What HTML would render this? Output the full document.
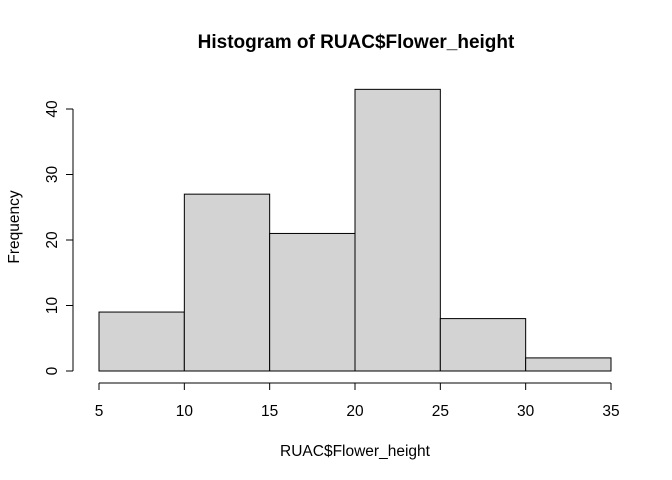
<!DOCTYPE html>
<html><head><meta charset="utf-8"><style>
body{margin:0;background:#fff}
svg{display:block;font-family:"Liberation Sans",Arial,sans-serif}
</style></head><body>
<svg id="c" width="672" height="480">
<text x="356" y="48" text-anchor="middle" font-size="19" font-weight="bold">Histogram of RUAC$Flower_height</text>
<text x="355" y="456" text-anchor="middle" font-size="15.5">RUAC$Flower_height</text>
<text transform="translate(19,227) rotate(-90)" text-anchor="middle" font-size="15.5">Frequency</text>
<g id="bars"></g><g id="xa"></g><g id="ya"></g>
</svg>
<script>
const breaks=[5,10,15,20,25,30,35];
const counts=[9,27,21,43,8,2];
const xTicks=[5,10,15,20,25,30,35];
const yTicks=[0,10,20,30,40];
const NS="http://www.w3.org/2000/svg";
const xs=v=>99+(v-5)*512/30;
const ys=v=>371-v*262/40;
function mk(t,a,p){const e=document.createElementNS(NS,t);for(const k in a)e.setAttribute(k,a[k]);p.appendChild(e);return e;}
const bars=document.getElementById('bars');
counts.forEach((c,i)=>{
 const r=mk('rect',{x:xs(breaks[i]),y:ys(c),width:xs(breaks[i+1])-xs(breaks[i]),height:ys(0)-ys(c),fill:'#d3d3d3',stroke:'#000','stroke-width':1},bars);
 
 
});
const xa=document.getElementById('xa');


mk('line',{x1:xs(xTicks[0]),x2:xs(xTicks[xTicks.length-1]),y1:383,y2:383,stroke:'#000'},xa);
xTicks.forEach(t=>{
 mk('line',{x1:xs(t),x2:xs(t),y1:383,y2:390,stroke:'#000'},xa);
 const l=mk('text',{x:xs(t),y:416,'text-anchor':'middle','font-size':15.5},xa);l.textContent=t;
 
 
});
const ya=document.getElementById('ya');


mk('line',{x1:73,x2:73,y1:ys(yTicks[0]),y2:ys(yTicks[yTicks.length-1]),stroke:'#000'},ya);
yTicks.forEach(t=>{
 mk('line',{x1:66,x2:73,y1:ys(t),y2:ys(t),stroke:'#000'},ya);
 const l=mk('text',{transform:`translate(57,${ys(t)}) rotate(-90)`,'text-anchor':'middle','font-size':15.5},ya);l.textContent=t;
 
 
});
</script>
</body></html>
